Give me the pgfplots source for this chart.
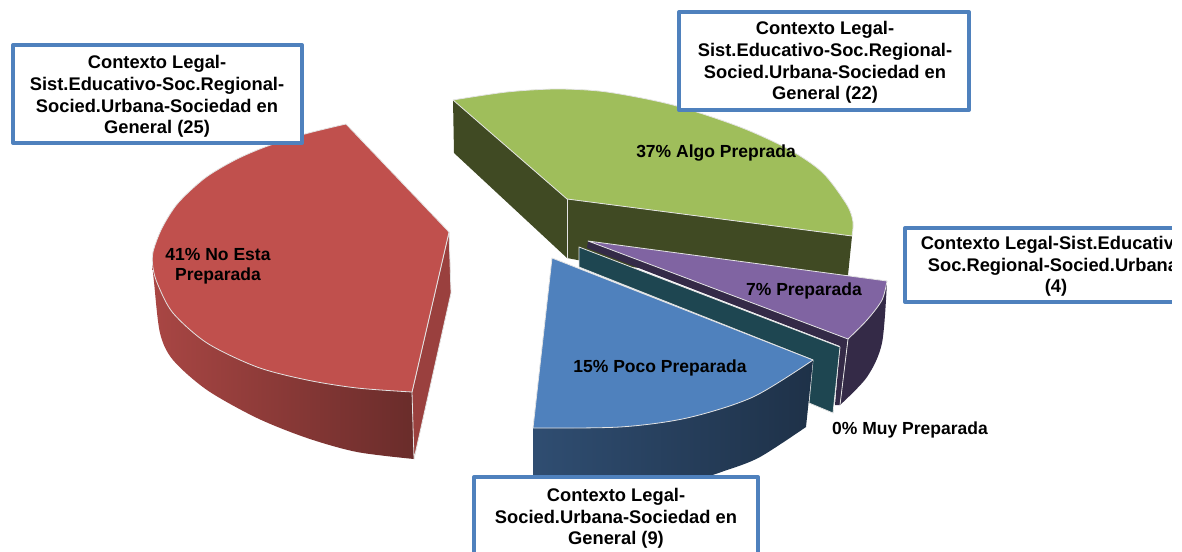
\documentclass[border=0pt]{standalone}
\usepackage{fontspec}
\setmainfont{Liberation Sans}
\usepackage{pgfplots}
\pgfplotsset{compat=1.18}
\definecolor{rt}{HTML}{C0504D}
\definecolor{gt}{HTML}{9FBE5B}
\definecolor{gd}{HTML}{404A23}
\definecolor{pt}{HTML}{8064A2}
\definecolor{pd}{HTML}{342A47}
\definecolor{tl}{HTML}{1E4651}
\definecolor{bt}{HTML}{4F81BD}
\definecolor{edge}{HTML}{E4E4E4}
\begin{document}
\begin{tikzpicture}[x=1pt,y=1pt,
 dlab/.style={font=\fontsize{17.5}{20.5}\selectfont\bfseries,align=center,inner sep=0pt},
 cbox/.style={font=\fontsize{18.3}{21.6}\selectfont\bfseries,align=center,inner sep=0pt}]
\path[use as bounding box] (0,0) rectangle (1182,551);
\begin{axis}[at={(0,0)},anchor=south west,scale only axis,width=1182pt,height=551pt,
 xmin=0,xmax=1182,ymin=0,ymax=551,y dir=reverse,hide axis,clip=false,
 every axis plot/.append style={no markers,line join=round}]
% red side faces
\addplot[smooth,draw=none,left color=rt!88!black,right color=rt!55!black] coordinates {
(152,262)(154,282)(160,333)(173,360)(207,390)(257,418)(307,438)(357,452)(414,459)} -- (axis cs:412,392) -- cycle;
\addplot[draw=edge,fill=rt!80!black,line width=0.8pt] coordinates {(412,392)(449,232)(451,293)(414,459)} -- cycle;
% red top
\addplot[smooth,draw=edge,fill=rt,line width=0.8pt] coordinates {
(346,124)(305,134)(265,147)(235,160)(205,178)(178,203)(162,228)(153,252)(153,268)(158,285)(173,313)(207,343)(257,367)(307,380)(357,388)(412,392)} -- (axis cs:449,232) -- cycle;
% green sides
\addplot[draw=none,fill=gd] coordinates {(453,100)(567,199)(567,258)(454,153)} -- cycle;
\addplot[draw=none,fill=gd] coordinates {(567,199)(852,236)(848,275)(700,275)(588,262)(567,258)} -- cycle;
\addplot[edge,line width=0.8pt] coordinates {(567,199)(567,258)};
% green top
\addplot[smooth,draw=edge,fill=gt,line width=0.8pt] coordinates {
(453,100)(507,92)(557,89)(607,92)(673,105)(740,127)(790,150)(823,173)(847,205)(853,222)(852,236)} -- (axis cs:567,199) -- cycle;
% purple sides
\addplot[draw=none,fill=pd] coordinates {(588,241)(848,339)(840,405)(835,405)(840,346)(587,248)} -- cycle;
\addplot[smooth,draw=none,fill=pd] coordinates {(887,281)(882,343)(867,377)(840,405)} -- (axis cs:848,339) -- cycle;
% teal
\addplot[draw=edge,fill=tl,line width=0.8pt] coordinates {(579,247)(840,347)(833,413)(809,403)(813,360)(579,267)} -- cycle;
% purple top
\addplot[smooth,draw=edge,fill=pt,line width=0.8pt] coordinates {(887,281)(882,300)(867,320)(848,339)} -- (axis cs:588,241) -- cycle;
\addplot[edge,line width=0.8pt] coordinates {(848,339)(840,405)};
% blue side
\addplot[smooth,draw=none,left color=bt!60!black,right color=bt!38!black] coordinates {
(806,427)(760,457)(727,470)(697,478)(620,482)(533,482)} -- (axis cs:533,428) -- (axis cs:813,360) -- cycle;
% blue top
\addplot[smooth,draw=edge,fill=bt,line width=0.8pt] coordinates {(813,360)(753,397)(687,418)(620,427)(533,428)} -- (axis cs:552,258) -- cycle;
% callout boxes
\addplot[draw=bt,fill=white,line width=4pt] coordinates {(13,45)(302,45)(302,143)(13,143)} -- cycle;
\addplot[draw=bt,fill=white,line width=4pt] coordinates {(679,12)(969,12)(969,110)(679,110)} -- cycle;
\addplot[draw=bt,fill=white,line width=4pt] coordinates {(905,228)(1190,228)(1190,302)(905,302)} -- cycle;
\addplot[draw=bt,fill=white,line width=4pt] coordinates {(474,477)(758,477)(758,570)(474,570)} -- cycle;
% callout text
\node[cbox] at (axis cs:157,96.5) {Contexto Legal-\\Sist.Educativo-Soc.Regional-\\Socied.Urbana-Sociedad en\\General (25)};
\node[cbox] at (axis cs:825,62.5) {Contexto Legal-\\Sist.Educativo-Soc.Regional-\\Socied.Urbana-Sociedad en\\General (22)};
\node[cbox] at (axis cs:1056,266.5) {Contexto Legal-Sist.Educativo-\\Soc.Regional-Socied.Urbana-\\(4)};
\node[cbox] at (axis cs:616,518.5) {Contexto Legal-\\Socied.Urbana-Sociedad en\\General (9)};
% data labels
\node[dlab] at (axis cs:218,266) {41\% No Esta\\Preparada};
\node[dlab] at (axis cs:716,153.5) {37\% Algo Preprada};
\node[dlab] at (axis cs:804,290.5) {7\% Preparada};
\node[dlab] at (axis cs:660,367.5) {15\% Poco Preparada};
\node[dlab] at (axis cs:910,429.5) {0\% Muy Preparada};
\end{axis}
\fill[white] (1172,0) rectangle (1182,551);
\end{tikzpicture}
\end{document}
